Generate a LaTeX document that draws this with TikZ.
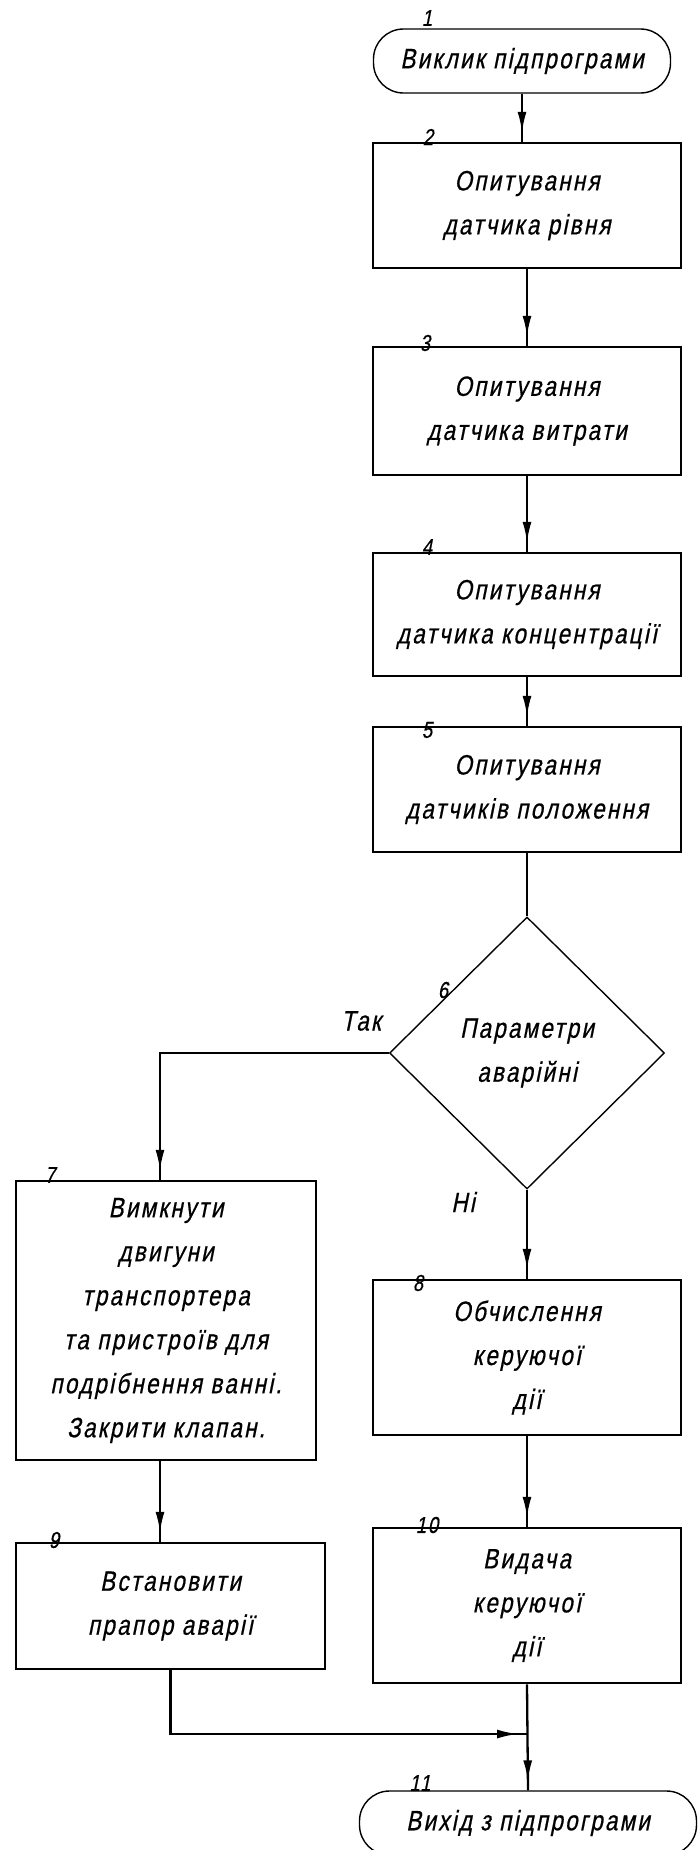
\documentclass[tikz,border=0pt]{standalone}
\usepackage{fontspec}
% narrow slanted drafting-style lettering
\newfontfamily\gost{Liberation Sans}[FakeStretch=0.8,FakeSlant=0.2,FakeBold=0.6,LetterSpace=8]
\usetikzlibrary{shapes.geometric,arrows.meta,decorations.markings,calc}
\begin{document}
\begin{tikzpicture}[x=1pt,y=-1pt,
  every node/.style={font=\gost\fontsize{28}{44}\selectfont,inner sep=0pt},
  blk/.style={draw,line width=2.5pt,rectangle,minimum width=308pt,align=center},
  term/.style={draw,line width=1.4pt,rounded corners=30pt,minimum height=64pt},
  num/.style={font=\gost\fontsize{23}{24}\selectfont},
  flow/.style={line width=2.3pt,postaction={decorate},
    decoration={markings,mark=at position -9pt with {\arrow{Latex[length=21pt,width=9pt]}}}},
  plain/.style={line width=2.3pt}]
\fill[white] (0,0) rectangle (698,1850);
\useasboundingbox (0,0) rectangle (698,1850);

% blocks of the right column
\node[term,minimum width=297pt] (t1) at (522,61) {Виклик підпрограми};
\node[blk,minimum height=125pt] (b2) at (527,205.5) {Опитування\\датчика рівня};
\node[blk,minimum height=128pt] (b3) at (527,411) {Опитування\\датчика витрати};
\node[blk,minimum height=123pt] (b4) at (527,614.5) {Опитування\\датчика концентрації};
\node[blk,minimum height=125pt] (b5) at (527,789.5) {Опитування\\датчиків положення};
\node[draw,diamond,line width=1.4pt,minimum width=275pt,minimum height=272pt,aspect=1] (d6) at (527,1053) {};
\node[align=center] (d6t) at (d6.center) {Параметри\\аварійні};
\node[blk,minimum height=155pt] (b8) at (527,1357.5) {Обчислення\\керуючої\\дії};
\node[blk,minimum height=155pt] (b10) at (527,1605.5) {Видача\\керуючої\\дії};
\node[term,minimum width=337pt] (t11) at (528,1823) {Вихід з підпрограми};

% blocks of the left column
\node[blk,minimum width=300pt,minimum height=279pt] (b7) at (166,1320.5)
  {Вимкнути\\двигуни\\транспортера\\та пристроїв для\\подрібнення ванні.\\Закрити клапан.};
\node[blk,minimum width=309pt,minimum height=126pt] (b9) at (170.5,1606) {Встановити\\прапор аварії};

% block numbers
\node[num] (n1) at (427,18) {1};
\node[num] (n2) at (428,137) {2};
\node[num] (n3) at (425,343) {3};
\node[num] (n4) at (427,547) {4};
\node[num] (n5) at (427,730) {5};
\node[num] (n6) at (443,990) {6};
\node[num] (n7) at (50,1175) {7};
\node[num] (n8) at (418,1283) {8};
\node[num] (n9) at (54,1540) {9};
\node[num] (n10) at (427,1525) {10};
\node[num] (n11) at (420,1783) {11};

% branch labels
\node (yes) at (361,1021) {Так};
\node (no) at (463,1202) {Ні};

% connectors
\coordinate (k1) at (160,1053);
\coordinate (j1) at (527,1734);
\draw[flow] (t1.south) -- (t1.south |- b2.north);
\draw[flow] (b2.south) -- (b3.north);
\draw[flow] (b3.south) -- (b4.north);
\draw[flow] (b4.south) -- (b5.north);
\draw[plain] (b5.south) -- (d6.north);
\draw[flow] (d6.west) -- (k1) -- (k1 |- b7.north);
\draw[flow] (d6.south) -- (b8.north);
\draw[flow] (k1 |- b7.south) -- (k1 |- b9.north);
\draw[flow] (b8.south) -- (b10.north);
\draw[flow] (b9.south) -- (b9.south |- j1) -- (j1);
\draw[flow] (b10.south) -- (t11.north);
\end{tikzpicture}
\end{document}
